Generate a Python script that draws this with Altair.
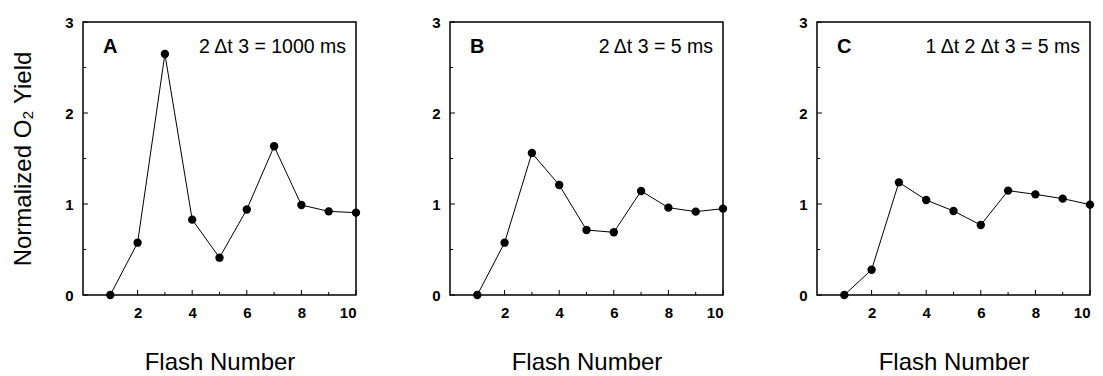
import altair as alt
import pandas as pd

flash = [1, 2, 3, 4, 5, 6, 7, 8, 9, 10]
yield_a = [0.0, 0.575, 2.648, 0.828, 0.41, 0.94, 1.634, 0.989, 0.919, 0.905]
yield_b = [0.0, 0.575, 1.56, 1.209, 0.714, 0.689, 1.143, 0.96, 0.916, 0.949]
yield_c = [0.0, 0.278, 1.238, 1.044, 0.923, 0.769, 1.147, 1.106, 1.059, 0.993]
letters = ["A", "B", "C"]
conditions = ["2 \u0394t 3 = 1000 ms", "2 \u0394t 3 = 5 ms", "1 \u0394t 2 \u0394t 3 = 5 ms"]
x_major = [2, 4, 6, 8, 10]
x_minor = [1, 3, 5, 7, 9]
y_major = [0, 1, 2, 3]
y_minor = [0.5, 1.5, 2.5]

FONT = "Liberation Sans"
W = 273
H = 273

xs = alt.Scale(domain=[0, 10], nice=False, zero=False)
ys = alt.Scale(domain=[0, 3], nice=False)


def panel(values, letter, cond, show_title):
    df = pd.DataFrame({"flash": flash, "y": values})
    xaxis = alt.Axis(values=x_major, ticks=False, tickSize=0, domain=False, grid=False,
                     labelPadding=10, title="Flash Number", titlePadding=30)
    if show_title:
        yaxis = alt.Axis(values=y_major, ticks=False, tickSize=0, domain=False, grid=False,
                         labelPadding=10, format="d",
                         title="Normalized O\u2082 Yield", titlePadding=29)
    else:
        yaxis = alt.Axis(values=y_major, ticks=False, tickSize=0, domain=False, grid=False,
                         labelPadding=10, format="d", title=None)
    base = alt.Chart(df)
    line = base.mark_line(color="black", strokeWidth=1).encode(
        x=alt.X("flash:Q", scale=xs, axis=xaxis),
        y=alt.Y("y:Q", scale=ys, axis=yaxis),
    )
    pts = base.mark_point(filled=True, color="black", size=70, opacity=1).encode(
        x=alt.X("flash:Q", scale=xs),
        y=alt.Y("y:Q", scale=ys),
    )
    ymaj = alt.Chart(pd.DataFrame({"v": y_major})).mark_rule(color="black", strokeWidth=1).encode(
        y=alt.Y("v:Q", scale=ys), x=alt.value(0), x2=alt.value(5))
    ymin = alt.Chart(pd.DataFrame({"v": y_minor})).mark_rule(color="black", strokeWidth=1).encode(
        y=alt.Y("v:Q", scale=ys), x=alt.value(0), x2=alt.value(3))
    xmaj = alt.Chart(pd.DataFrame({"v": x_major})).mark_rule(color="black", strokeWidth=1).encode(
        x=alt.X("v:Q", scale=xs), y=alt.value(H), y2=alt.value(H - 5))
    xmin = alt.Chart(pd.DataFrame({"v": x_minor})).mark_rule(color="black", strokeWidth=1).encode(
        x=alt.X("v:Q", scale=xs), y=alt.value(H), y2=alt.value(H - 3))
    lab = alt.Chart(pd.DataFrame({"t": [letter]})).mark_text(
        font=FONT, fontSize=20, fontWeight="bold", align="left", baseline="alphabetic", color="black"
    ).encode(text="t:N", x=alt.value(20), y=alt.value(31))
    cnd = alt.Chart(pd.DataFrame({"t": [cond]})).mark_text(
        font=FONT, fontSize=19.5, align="right", baseline="alphabetic", color="black"
    ).encode(text="t:N", x=alt.value(W - 10), y=alt.value(31))
    return alt.layer(ymaj, ymin, xmaj, xmin, line, pts, lab, cnd).properties(width=W, height=H)


chart = alt.hconcat(
    panel(yield_a, letters[0], conditions[0], True),
    panel(yield_b, letters[1], conditions[1], False),
    panel(yield_c, letters[2], conditions[2], False),
    spacing=94,
    bounds="flush",
).properties(
    padding={"left": 10, "top": 14, "right": 5, "bottom": 5},
    background="white",
).configure_view(
    stroke="black", strokeWidth=1.5
).configure_axis(
    labelFont=FONT, labelFontSize=15, labelFontWeight="bold", labelColor="black",
    titleFont=FONT, titleFontSize=24, titleFontWeight="normal", titleColor="black",
)

chart.save("out.html", embed_options={"renderer": "svg", "actions": False})
